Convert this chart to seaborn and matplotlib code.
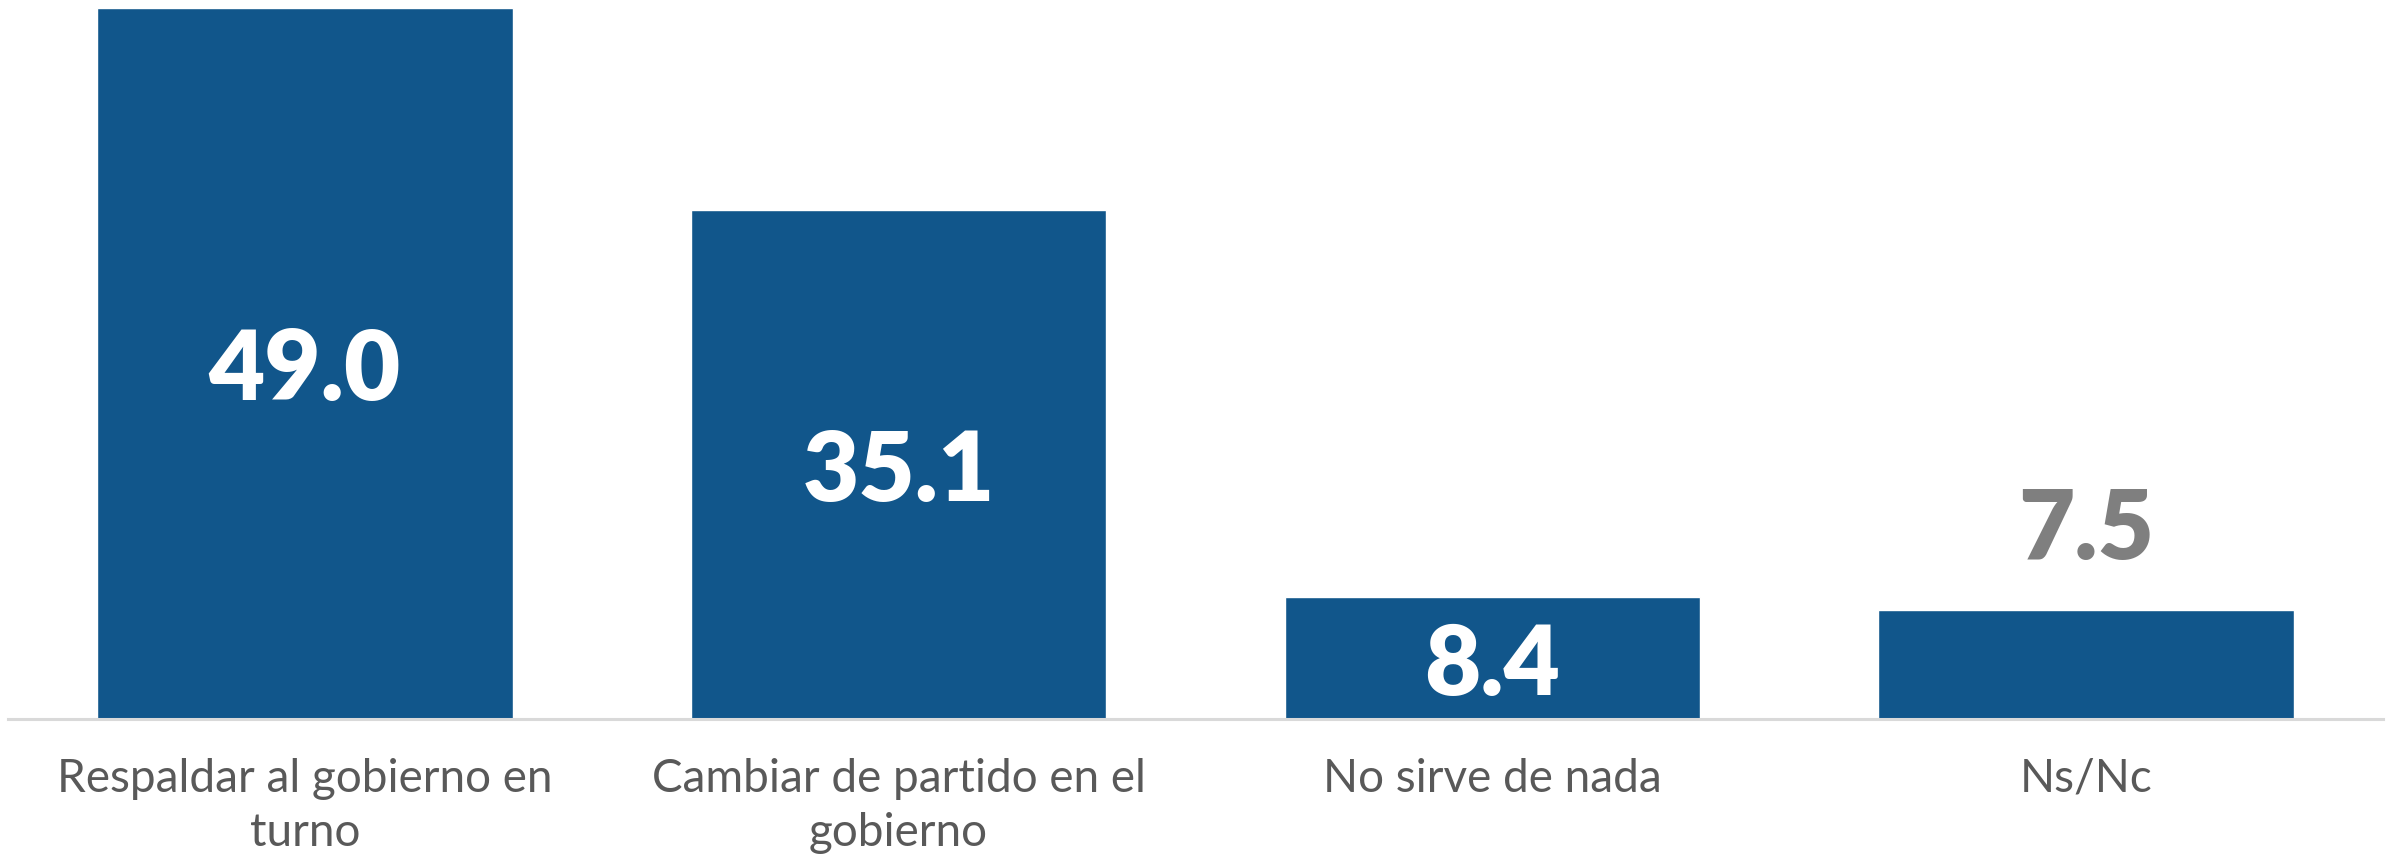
import matplotlib
matplotlib.use('Agg')
import matplotlib.pyplot as plt
import seaborn as sns

# Data
categories = ['Respaldar al gobierno en\nturno', 'Cambiar de partido en el\ngobierno',
              'No sirve de nada', 'Ns/Nc']
values = [49.0, 35.1, 8.4, 7.5]
labels_inside = [True, True, True, False]

sns.set_theme(style='white')
plt.rcParams['font.family'] = ['Lato', 'DejaVu Sans']

fig = plt.figure(figsize=(23.95, 8.61), dpi=100)
ax = fig.add_axes([8 / 2395, (861 - 719) / 861, (2383 - 8) / 2395, 719 / 861])

sns.barplot(x=list(range(len(values))), y=values, color='#11568b', width=0.70,
            saturation=1, ax=ax)

ax.set_xlim(-0.5, 3.5)
ax.set_ylim(0, 49.55)

for i, (v, inside) in enumerate(zip(values, labels_inside)):
    if inside:
        ax.text(i, v / 2, f'{v:.1f}', ha='center', va='center_baseline',
                fontsize=70, fontweight='heavy', color='white')
    else:
        ax.annotate(f'{v:.1f}', xy=(i, v), xytext=(0, 63), textcoords='offset points',
                    ha='center', va='center_baseline', fontsize=70,
                    fontweight='heavy', color='#7f7f7f')

ax.set_xticks(range(len(categories)))
ax.set_xticklabels(categories, fontsize=33, color='#595959', linespacing=1.35, va='top')
ax.tick_params(axis='x', length=0, pad=28)
ax.set_yticks([])
ax.set_xlabel('')
ax.set_ylabel('')

for side in ['top', 'left', 'right']:
    ax.spines[side].set_visible(False)
ax.spines['bottom'].set_color('#d9d9d9')
ax.spines['bottom'].set_linewidth(2.2)

fig.savefig('out.png', dpi=100)
plt.close(fig)
